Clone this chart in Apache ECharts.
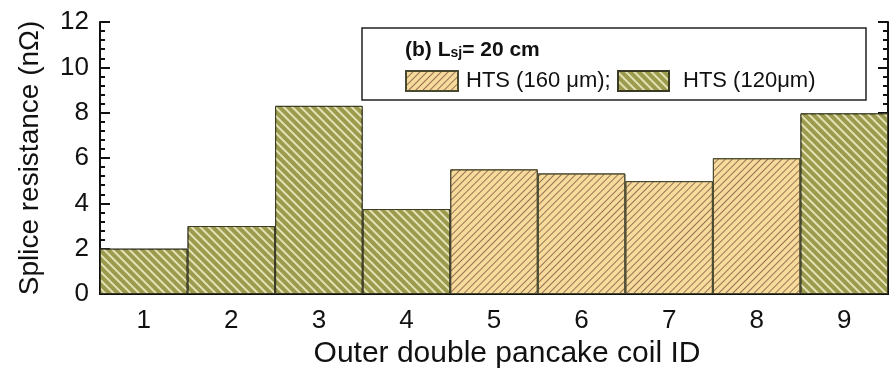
<!DOCTYPE html>
<html><head><meta charset="utf-8">
<script src="https://cdn.jsdelivr.net/npm/echarts@6/dist/echarts.min.js"></script>
<style>html,body{margin:0;padding:0;background:#fff}#c{width:893px;height:375px}</style>
</head><body><div id="c"></div>
<script>
const categories = ['1','2','3','4','5','6','7','8','9'];
const hts160 = ['-','-','-','-',5.5,5.32,4.98,5.99,'-'];
const hts120 = [2.0,3.0,8.3,3.75,'-','-','-','-',7.97];
const yTicks = [0,2,4,6,8,10,12];

const FONT = '"Liberation Sans", Arial, sans-serif';
const decal160 = {symbol:'rect', symbolSize:1, dashArrayX:[1,0], dashArrayY:[1,3.3], rotation:-Math.PI/4, color:'rgba(125,75,65,0.75)'};
const decal120 = {symbol:'rect', symbolSize:1, dashArrayX:[1,0], dashArrayY:[1.4,3.9], rotation:Math.PI/4, color:'rgba(238,238,200,0.85)'};

const chart = echarts.init(document.getElementById('c'));
const axisLine = {show:true, lineStyle:{color:'#111', width:2}};
chart.setOption({
  animation:false,
  grid:{left:100, right:5, top:22, bottom:81},
  legend:[
    {data:['HTS (160 μm);'], left:400, top:65, itemWidth:52, itemHeight:20, itemGap:0, icon:'rect',
     textStyle:{fontFamily:FONT, fontSize:22, color:'#111', padding:[0,0,0,3]}, selectedMode:false},
    {data:['HTS (120μm)'], left:612, top:65, itemWidth:51, itemHeight:20, itemGap:0, icon:'rect',
     textStyle:{fontFamily:FONT, fontSize:22, color:'#111', padding:[0,0,0,9]}, selectedMode:false}
  ],
  graphic:[
    {type:'rect', shape:{x:362, y:28, width:504, height:72}, style:{fill:'#fff', stroke:'#222', lineWidth:1.5}, z:0},
    {type:'text', x:405, y:36, z:10, style:{
      text:'{b|(b) L}{s|sj}{b|= 20 cm}',
      rich:{b:{fontFamily:FONT, fontSize:21, fontWeight:'bold', fill:'#111', verticalAlign:'bottom', lineHeight:25},
            s:{fontFamily:FONT, fontSize:14, fontWeight:'bold', fill:'#111', padding:[0,0,-9,0], lineHeight:25}}
    }}
  ],
  xAxis:[
    {type:'category', data:categories, axisLine:axisLine, axisTick:{show:false},
     axisLabel:{fontFamily:FONT, fontSize:26, color:'#111', margin:14},
     name:'Outer double pancake coil ID', nameLocation:'middle', nameGap:37,
     nameTextStyle:{fontFamily:FONT, fontSize:30, color:'#111', padding:[0,0,0,26]}},
    {type:'category', data:categories, position:'top', axisLine:axisLine, axisTick:{show:false}, axisLabel:{show:false}}
  ],
  yAxis:[
    {type:'value', min:0, max:12, interval:2, axisLine:axisLine,
     axisTick:{show:true, inside:true, length:10, lineStyle:{color:'#111', width:2}},
     minorTick:{show:true, splitNumber:5, length:5, lineStyle:{color:'#111', width:2}},
     splitLine:{show:false},
     axisLabel:{fontFamily:FONT, fontSize:26, color:'#111', margin:11, formatter:v=>yTicks.includes(v)?String(v):''},
     name:'Splice resistance (nΩ)', nameLocation:'middle', nameGap:56,
     nameTextStyle:{fontFamily:FONT, fontSize:28, color:'#111'}},
    {type:'value', min:0, max:12, interval:2, position:'right', axisLine:axisLine,
     axisTick:{show:true, inside:true, length:10, lineStyle:{color:'#111', width:2}},
     minorTick:{show:true, splitNumber:5, length:5, lineStyle:{color:'#111', width:2}},
     splitLine:{show:false}, axisLabel:{show:false}}
  ],
  series:[
    {name:'HTS (160 μm);', type:'bar', data:hts160, barGap:'-100%', barCategoryGap:'0%',
     itemStyle:{color:'#f6dc9a', borderColor:'#4a4a30', borderWidth:1, decal:decal160}, z:2},
    {name:'HTS (120μm)', type:'bar', data:hts120, barGap:'-100%', barCategoryGap:'0%',
     itemStyle:{color:'#9b9a4d', borderColor:'#3a3a25', borderWidth:1, decal:decal120}, z:2}
  ]
});
</script></body></html>
